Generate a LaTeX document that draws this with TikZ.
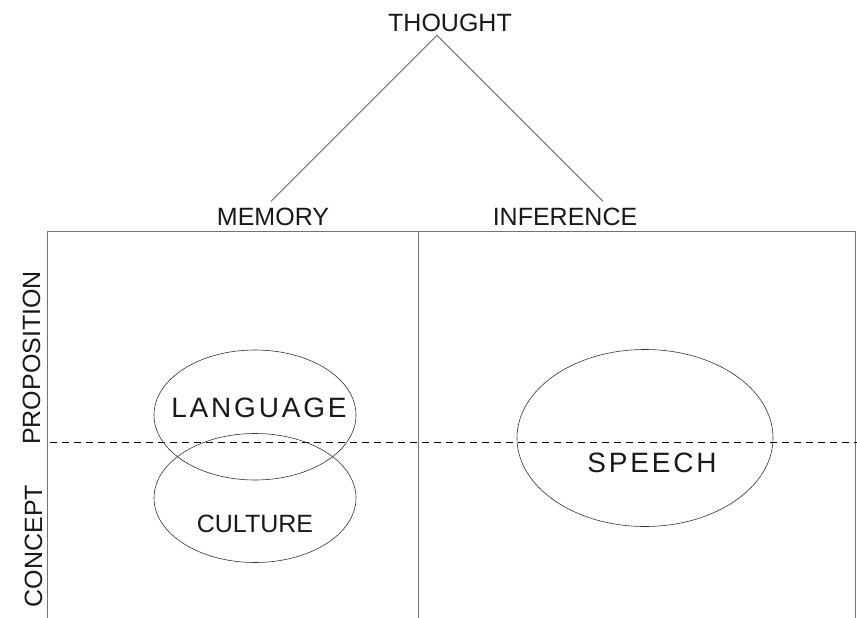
\documentclass[tikz,border=0pt]{standalone}
\usepackage{fontspec}
\setmainfont{Liberation Sans}
\usetikzlibrary{shapes.geometric}

\tikzset{
  word/.style={font=\fontsize{25}{30}\selectfont, inner sep=0pt, anchor=base, text=black!90},
  bigword/.style={word, font=\fontsize{28}{32}\selectfont\addfontfeature{LetterSpace=10}},
  oval/.style={draw=black!80, line width=0.6pt, ellipse, inner sep=0pt},
  frame/.style={draw=black!55, line width=0.8pt},
  branch/.style={draw=black!70, line width=0.7pt}
}

\begin{document}
\begin{tikzpicture}[x=1pt, y=-1pt]
    \useasboundingbox (0,0) rectangle (857,618);
    % top of the tree
    \node[word] (thought)   at (450,32)  {THOUGHT};
    \node[word] (memory)    at (273,225) {MEMORY};
    \node[word] (inference) at (565,225) {INFERENCE};
    \coordinate (apex) at ([xshift=-13pt,yshift=-3pt]thought.south);
    \draw[branch] (apex) -- ([xshift=-2pt,yshift=6pt]memory.north);
    \draw[branch] (apex) -- ([xshift=38pt,yshift=6pt]inference.north);
    % frame and divider
    \draw[frame] (47,618) |- (855,231) -- (855,618);
    \draw[frame] (418,231) -- (418,618);
    \draw[dashed, dash pattern=on 7pt off 5pt, line width=0.7pt] (50,442) -- (857,442);
    % side labels
    \node[word, rotate=90] (proposition) at (40,358) {PROPOSITION};
    \node[word, rotate=90] (concept)     at (42,546) {CONCEPT};
    % ovals
    \node[oval, minimum width=202pt, minimum height=130pt] (languageoval) at (255,415) {};
    \node[oval, minimum width=202pt, minimum height=129pt] (cultureoval)  at (255,498) {};
    \node[oval, minimum width=256pt, minimum height=177pt] (speechoval)   at (645,438) {};
    \node[bigword] (language) at (259,417) {LANGUAGE};
    \node[word]    (culture)  at (255,532) {CULTURE};
    \node[bigword] (speech)   at (652,472) {SPEECH};
\end{tikzpicture}
\end{document}
